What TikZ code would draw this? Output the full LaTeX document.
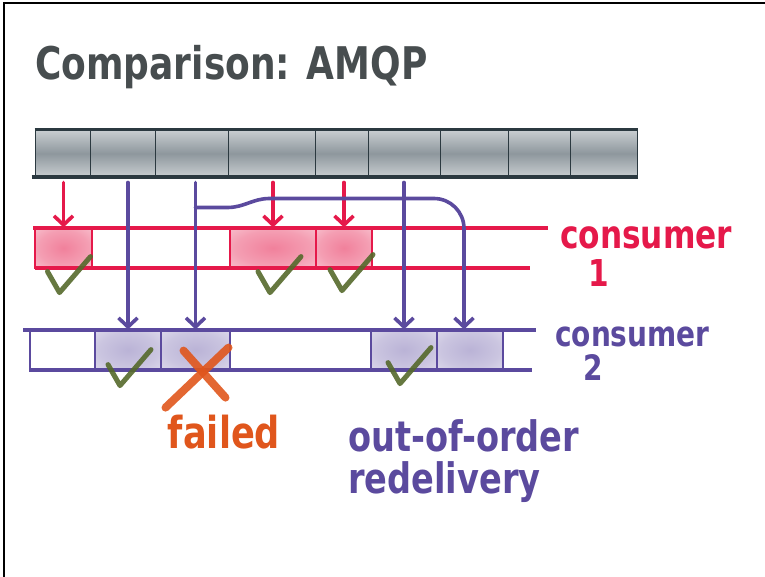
\documentclass[tikz,border=0pt]{standalone}
\usepackage{fontspec}
\setmainfont{DejaVu Sans}[FakeStretch=0.8]
\usepackage{tikz}
\usetikzlibrary{arrows.meta,calc,positioning}
\definecolor{slate}{HTML}{2B3940}
\definecolor{barmid}{HTML}{8E979D}
\definecolor{barlight}{HTML}{C9CED1}
\definecolor{consumerred}{HTML}{E5194A}
\definecolor{consumerpurple}{HTML}{5B4A9E}
\definecolor{okgreen}{HTML}{55692B}
\definecolor{failorange}{HTML}{E0561C}
\definecolor{titlegray}{HTML}{474D4F}
\pgfdeclareradialshading{redglow}{\pgfpoint{0bp}{0bp}}{color(0bp)=(consumerred!55);
  color(22bp)=(consumerred!42); color(50bp)=(consumerred!14); color(60bp)=(consumerred!14)}
\pgfdeclareradialshading{purpleglow}{\pgfpoint{0bp}{0bp}}{color(0bp)=(consumerpurple!42);
  color(22bp)=(consumerpurple!32); color(50bp)=(consumerpurple!10); color(60bp)=(consumerpurple!10)}

\begin{document}
\begin{tikzpicture}[
    x=1pt,y=-1pt,
    msgcell/.style={draw=slate,line width=1pt,minimum height=47,inner sep=0pt,
      top color=barlight,bottom color=barlight,middle color=barmid},
    c1cell/.style={draw=consumerred,line width=1.2pt,minimum height=40,inner sep=0pt,
      shading=redglow},
    c2cell/.style={draw=consumerpurple,line width=1.2pt,minimum height=40,inner sep=0pt},
    c2shaded/.style={c2cell,shading=purpleglow},
    c1band/.style={draw=consumerred,line width=3.4pt},
    c2band/.style={draw=consumerpurple,line width=3.4pt},
    c1arrow/.style={draw=consumerred,line width=3.6pt,line cap=round,
      -{Straight Barb[length=9pt,width=19pt]},shorten <=5pt},
    c2arrow/.style={draw=consumerpurple,line width=3.6pt,line cap=round,
      -{Straight Barb[length=9pt,width=19pt]},shorten <=5pt},
    failstroke/.style={draw=failorange,line width=8pt,line cap=round,opacity=0.9},
    okmark/.pic={\draw[draw=okgreen,line width=5pt,line cap=round,
      line join=round,opacity=0.9] (-12,-21) -- (0,0) -- (31,-36);}
  ]
    \useasboundingbox (0,0) rectangle (765,577);
    \draw[line width=1.5pt] (4,577) -- (4,3) -- (765,3);

    \node[font=\fontsize{45}{50}\selectfont\bfseries,text=titlegray,anchor=base west,
      inner sep=0pt] (title) at (35,80) {Comparison: AMQP};

    % the queue
    \foreach \xa/\xb [count=\i] in {35/90,90/155,155/228,228/315,315/368,
        368/440,440/508,508/570,570/637} {
      \node[msgcell,minimum width={\xb-\xa}] (q\i) at ({(\xa+\xb)/2},153.5) {};
    }
    \draw[slate,line width=3pt] (q1.north west) -- (q9.north east);
    \draw[slate,line width=4pt] ([xshift=-3pt]q1.south west) -- (q9.south east);

    % consumer 1
    \node[c1cell,minimum width=57] (a1) at (63.5,248) {};
    \node[c1cell,minimum width=86] (a4) at (273,248) {};
    \node[c1cell,minimum width=56] (a5) at (344,248) {};
    \draw[c1band] (33,228) -- (548,228);
    \draw[c1band] (35,268) -- (530,268);

    % consumer 2
    \node[c2cell,minimum width=65] (b0) at (62.5,350) {};
    \node[c2shaded,minimum width=66] (b2) at (128,350) {};
    \node[c2shaded,minimum width=69] (b3) at (195.5,350) {};
    \node[c2shaded,minimum width=66] (b6) at (404,350) {};
    \node[c2shaded,minimum width=66] (b3r) at (470,350) {};
    \draw[c2band] (23,330) -- (536,330);
    \draw[c2band] (29,370) -- (532,370);

    % deliveries
    \draw[c1arrow] (a1 |- q1.south) -- (a1.north);
    \draw[c1arrow] (a4 |- q4.south) -- (a4.north);
    \draw[c1arrow] (a5 |- q5.south) -- (a5.north);
    \draw[c2arrow] (b2 |- q2.south) -- (b2.north);
    \draw[c2arrow] (b3 |- q3.south) -- (b3.north);
    \draw[c2arrow] (b6 |- q6.south) -- (b6.north);
    \coordinate (fork) at ($(b3 |- q3.south)+(0,30)$);
    \draw[c2arrow,shorten <=0pt] (fork) -- ++(32,0) to[out=0,in=180] ++(42,-9)
      [rounded corners=30pt] -| ([xshift=-6pt]b3r.north);

    % acks and the failure
    \pic at ([shift={(-4,24)}]a1.south) {okmark};
    \pic at ([shift={(-3,24)}]a4.south) {okmark};
    \pic at ([shift={(-2,22)}]a5.south) {okmark};
    \pic at ([shift={(-8,15)}]b2.south) {okmark};
    \pic at ([shift={(-4,13)}]b6.south) {okmark};
    \draw[failstroke] ([shift={(-30,37)}]b3.south) -- ([shift={(33,-23)}]b3.south);
    \draw[failstroke] ([shift={(-12,-20)}]b3.south) -- ([shift={(30,27)}]b3.south);

    % labels
    \node[font=\fontsize{44}{44}\selectfont\bfseries,text=failorange,inner sep=0pt]
      (failed) at (224,432) {failed};
    \node[font=\fontsize{42}{42}\selectfont\bfseries,text=consumerpurple,align=left,
      anchor=north west,inner sep=0pt] (redelivery) at (348,419)
      {out-of-order\\redelivery};
    \node[font=\fontsize{39}{40}\selectfont\bfseries,text=consumerred,anchor=base west,
      inner sep=0pt] (c1name) at (560,248) {consumer};
    \node[font=\fontsize{37}{40}\selectfont\bfseries,text=consumerred,anchor=base west,
      inner sep=0pt] (c1num) at (588,287) {1};
    \node[font=\fontsize{35}{37}\selectfont\bfseries,text=consumerpurple,anchor=base west,
      inner sep=0pt] (c2name) at (555,346) {consumer};
    \node[font=\fontsize{35}{37}\selectfont\bfseries,text=consumerpurple,anchor=base west,
      inner sep=0pt] (c2num) at (583,380) {2};
  \end{tikzpicture}
\end{document}
